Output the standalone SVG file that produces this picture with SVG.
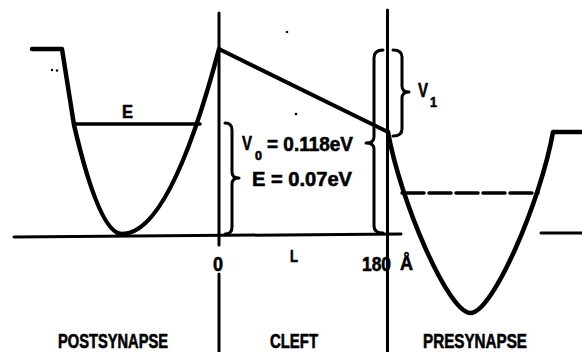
<svg xmlns="http://www.w3.org/2000/svg" width="582" height="352" viewBox="0 0 582 352">
<style>
.ln{fill:none;stroke:#000;stroke-linecap:round;stroke-linejoin:round}
.t{font-family:"Liberation Sans",Arial,sans-serif;font-weight:bold;fill:#000;stroke:#000;stroke-width:0.6}
</style>
<rect width="582" height="352" fill="#fff"/>
<g id="axes">
<path class="ln" d="M14,237 L401,234" stroke-width="3"/>
<path class="ln" d="M219,13 L219,245 M219,274 L219,352" stroke-width="3"/>
<path class="ln" d="M387.5,10 L387.5,352" stroke-width="3"/>
</g>
<g id="postsynapse-well">
<path class="ln" d="M32,49 L62,49 L74,125 Q99.5,234 122,234 Q170,234 219,49" stroke-width="4.5"/>
<path class="ln" d="M74,124 L200,124" stroke-width="3.5"/>
<text class="t" x="122" y="118" font-size="18" textLength="11" lengthAdjust="spacingAndGlyphs">E</text>
<circle cx="52" cy="70" r="1.2"/>
<circle cx="57" cy="70.5" r="1.2"/>
</g>
<g id="cleft-barrier">
<path class="ln" d="M219,49 L388,132" stroke-width="4"/>
<circle cx="287" cy="32" r="1.3"/>
<circle cx="296" cy="114" r="1.3"/>
</g>
<g id="presynapse-well">
<path class="ln" d="M388,132 C400,200 448,313 470.5,313 C493,313 541,200 553,132 L582,132" stroke-width="4.5"/>
<path class="ln" d="M402,193 L538,193" stroke-width="3.5" stroke-dasharray="22 5" stroke-linecap="butt"/>
<path class="ln" d="M541,233 L582,233" stroke-width="3"/>
</g>
<g id="braces">
<path class="ln" d="M225,123 Q232,123 232,130 L232,172 Q232,178 239,178 Q232,178 232,184 L232,227 Q232,234 225,234" stroke-width="3"/>
<path class="ln" d="M383,50 Q374,50 374,58 L374,137 Q374,143 366,143 Q374,143 374,149 L374,226 Q374,233 383,233" stroke-width="3"/>
<path class="ln" d="M393,50 Q402,50 402,57 L402,86 Q402,92 409,92 Q402,92 402,98 L402,129 Q402,136 393,136" stroke-width="3"/>
</g>
<g id="labels">
<text class="t" x="242" y="150" font-size="20" textLength="10" lengthAdjust="spacingAndGlyphs">V</text>
<text class="t" x="255" y="160" font-size="13" textLength="7" lengthAdjust="spacingAndGlyphs">0</text>
<text class="t" x="267" y="151" font-size="20" textLength="86" lengthAdjust="spacingAndGlyphs">= 0.118eV</text>
<text class="t" x="252" y="186" font-size="20" textLength="100" lengthAdjust="spacingAndGlyphs">E = 0.07eV</text>
<text class="t" x="418" y="97" font-size="20" textLength="10" lengthAdjust="spacingAndGlyphs">V</text>
<text class="t" x="430" y="107" font-size="14" textLength="7" lengthAdjust="spacingAndGlyphs">1</text>
<text class="t" x="213" y="271" font-size="20" textLength="10" lengthAdjust="spacingAndGlyphs">0</text>
<text class="t" x="290" y="262" font-size="17" textLength="8" lengthAdjust="spacingAndGlyphs">L</text>
<text class="t" x="362" y="271" font-size="20" textLength="29" lengthAdjust="spacingAndGlyphs">180</text>
<text class="t" x="400" y="270" font-size="20" textLength="13" lengthAdjust="spacingAndGlyphs">Å</text>
<text class="t" x="58" y="348" font-size="20" textLength="110" lengthAdjust="spacingAndGlyphs">POSTSYNAPSE</text>
<text class="t" x="270" y="348" font-size="20" textLength="48" lengthAdjust="spacingAndGlyphs">CLEFT</text>
<text class="t" x="423" y="348" font-size="20" textLength="104" lengthAdjust="spacingAndGlyphs">PRESYNAPSE</text>
</g>
</svg>
